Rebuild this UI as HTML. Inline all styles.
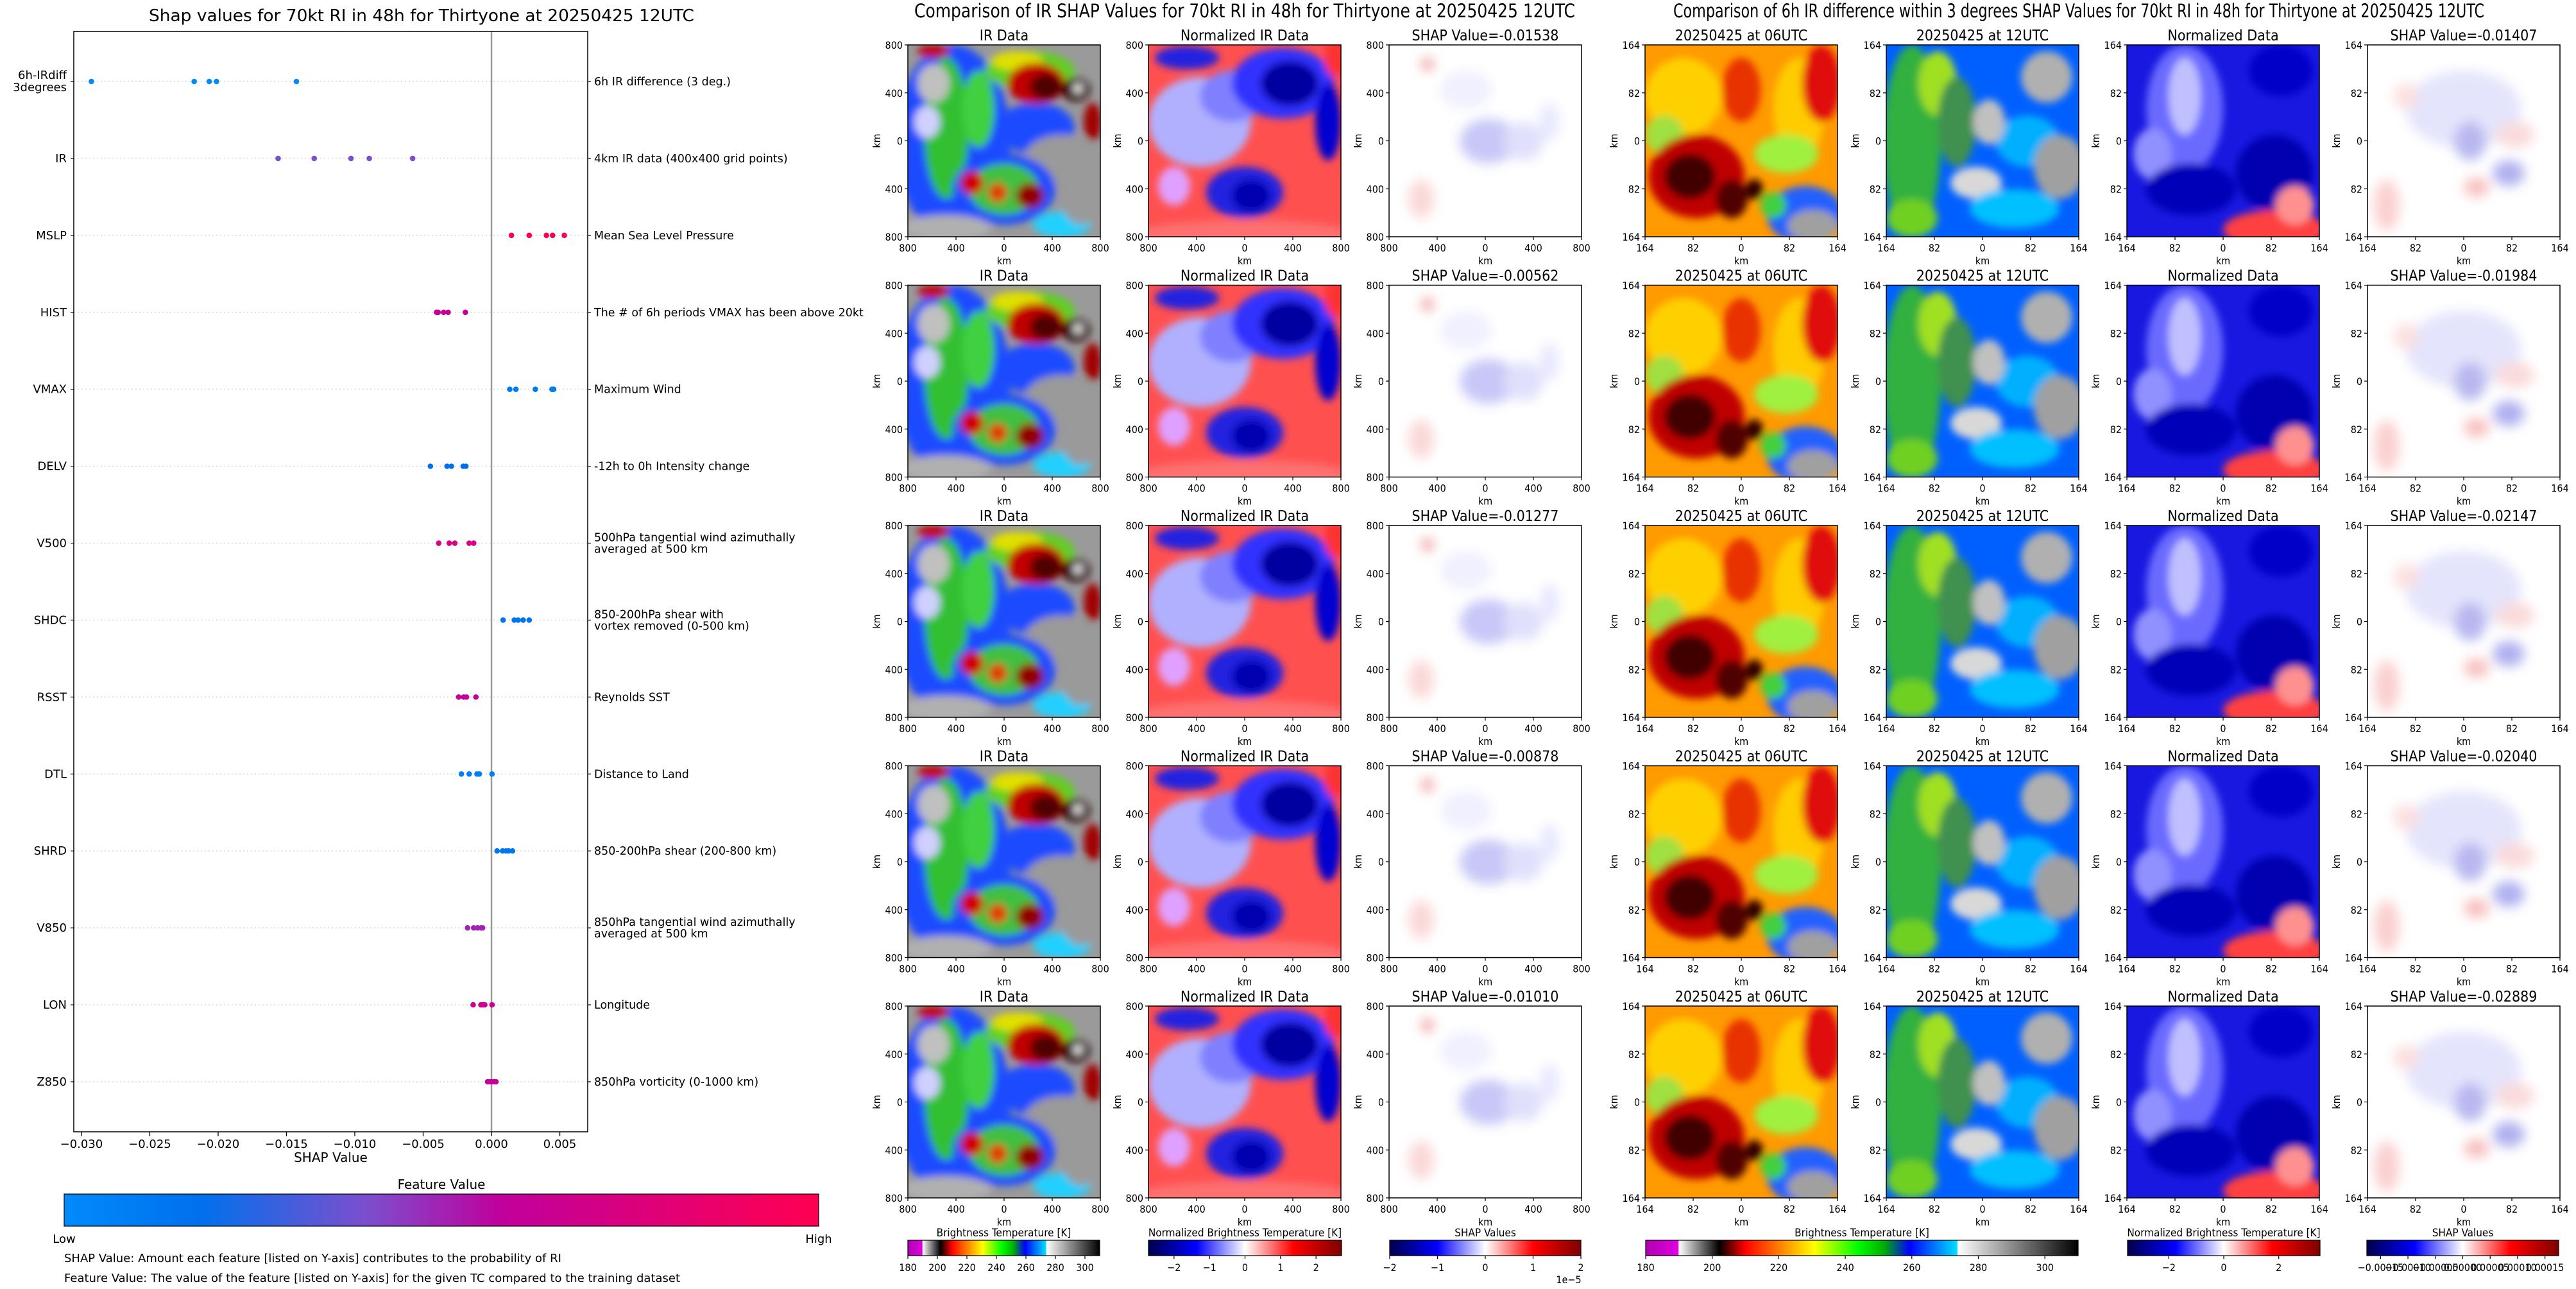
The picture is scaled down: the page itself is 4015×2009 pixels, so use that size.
<!DOCTYPE html>
<html><head><meta charset="utf-8"><style>
html,body{margin:0;padding:0;background:#fff;}
svg{display:block;}
.t{font-family:"DejaVu Sans","Liberation Sans",sans-serif;fill:#000;}
.c{font-family:"DejaVu Sans Condensed","Liberation Sans Narrow","Liberation Sans",sans-serif;fill:#000;}
</style></head><body>
<svg id="root" xmlns="http://www.w3.org/2000/svg" width="4015" height="2009" viewBox="0 0 4015 2009">
<defs>
<filter id="b6" x="-20%" y="-20%" width="140%" height="140%"><feGaussianBlur stdDeviation="6"/></filter>
<filter id="b9" x="-20%" y="-20%" width="140%" height="140%"><feGaussianBlur stdDeviation="9"/></filter>
<clipPath id="pc"><rect x="0" y="0" width="300" height="299"/></clipPath>
<linearGradient id="shapcm" x1="0" x2="1" y1="0" y2="0">
<stop offset="0" stop-color="#008bfb"/><stop offset="0.18" stop-color="#0070ec"/><stop offset="0.4" stop-color="#7b4fce"/><stop offset="0.58" stop-color="#c0009c"/><stop offset="1" stop-color="#ff0051"/></linearGradient>
<linearGradient id="ircm" x1="0" x2="1" y1="0" y2="0">
<stop offset="0" stop-color="#b000b0"/><stop offset="0.075" stop-color="#e000e0"/><stop offset="0.077" stop-color="#ffffff"/><stop offset="0.12" stop-color="#888"/><stop offset="0.17" stop-color="#000"/><stop offset="0.2" stop-color="#800000"/><stop offset="0.23" stop-color="#ff0000"/><stop offset="0.31" stop-color="#ff8000"/><stop offset="0.39" stop-color="#ffff00"/><stop offset="0.49" stop-color="#00ff00"/><stop offset="0.55" stop-color="#00b000"/><stop offset="0.61" stop-color="#0000ff"/><stop offset="0.72" stop-color="#00e0ff"/><stop offset="0.722" stop-color="#ffffff"/><stop offset="0.85" stop-color="#888"/><stop offset="1" stop-color="#000"/></linearGradient>
<linearGradient id="seis" x1="0" x2="1" y1="0" y2="0">
<stop offset="0" stop-color="#00004c"/><stop offset="0.25" stop-color="#0000ff"/><stop offset="0.5" stop-color="#ffffff"/><stop offset="0.75" stop-color="#ff0000"/><stop offset="1" stop-color="#800000"/></linearGradient>

<g id="p-ir" clip-path="url(#pc)"><rect width="300" height="300" fill="#9a9a9a"/><g filter="url(#b6)">
<ellipse cx="70" cy="150" rx="90" ry="150" fill="#1a4cff"/><ellipse cx="200" cy="130" rx="60" ry="40" fill="#1a4cff"/>
<ellipse cx="60" cy="130" rx="35" ry="110" fill="#30c030"/><ellipse cx="110" cy="100" rx="25" ry="60" fill="#40d040"/>
<ellipse cx="40" cy="60" rx="25" ry="30" fill="#c0c0c0"/><ellipse cx="30" cy="120" rx="20" ry="25" fill="#d0d0ff"/>
<ellipse cx="190" cy="40" rx="70" ry="30" fill="#60d020"/><ellipse cx="170" cy="25" rx="40" ry="15" fill="#e0e000"/>
<ellipse cx="200" cy="60" rx="45" ry="32" fill="#c00000"/><ellipse cx="215" cy="65" rx="25" ry="20" fill="#500000"/>
<ellipse cx="262" cy="70" rx="22" ry="18" fill="#300000"/><ellipse cx="265" cy="68" rx="8" ry="8" fill="#e0e0e0"/>
<ellipse cx="288" cy="120" rx="14" ry="30" fill="#a00000"/><ellipse cx="40" cy="10" rx="25" ry="10" fill="#c00000"/>
<ellipse cx="240" cy="180" rx="60" ry="40" fill="#9a9a9a"/><ellipse cx="150" cy="225" rx="80" ry="55" fill="#1a4cff"/>
<ellipse cx="150" cy="225" rx="55" ry="40" fill="#40c040"/><ellipse cx="100" cy="215" rx="18" ry="18" fill="#d00000"/>
<ellipse cx="190" cy="235" rx="22" ry="20" fill="#900000"/><ellipse cx="140" cy="230" rx="15" ry="15" fill="#e04000"/>
<ellipse cx="240" cy="280" rx="45" ry="20" fill="#20d0ff"/><ellipse cx="60" cy="285" rx="70" ry="20" fill="#b0b0b0"/>
<ellipse cx="270" cy="240" rx="30" ry="40" fill="#9a9a9a"/></g></g>

<g id="p-nir" clip-path="url(#pc)"><rect width="300" height="300" fill="#ff5050"/><g filter="url(#b6)">
<ellipse cx="80" cy="120" rx="80" ry="70" fill="#b0b0ff"/><ellipse cx="130" cy="80" rx="50" ry="40" fill="#8080ff"/>
<ellipse cx="60" cy="20" rx="50" ry="18" fill="#2020e0"/><ellipse cx="210" cy="60" rx="80" ry="55" fill="#3030ff"/>
<ellipse cx="220" cy="60" rx="45" ry="35" fill="#0000a0"/><ellipse cx="280" cy="120" rx="20" ry="60" fill="#0000d0"/>
<ellipse cx="150" cy="230" rx="60" ry="40" fill="#2020e0"/><ellipse cx="160" cy="235" rx="30" ry="25" fill="#0000b0"/>
<ellipse cx="40" cy="220" rx="25" ry="30" fill="#e0a0ff"/><ellipse cx="150" cy="295" rx="170" ry="22" fill="#ff7070"/>
<ellipse cx="292" cy="20" rx="18" ry="30" fill="#ff3030"/></g></g>

<g id="p-shap" clip-path="url(#pc)"><rect width="300" height="300" fill="#fff"/><g filter="url(#b9)">
<ellipse cx="155" cy="150" rx="45" ry="35" fill="#c8c8f8"/><ellipse cx="210" cy="150" rx="30" ry="30" fill="#e0e0fc"/>
<ellipse cx="50" cy="240" rx="20" ry="30" fill="#fbd8d8"/><ellipse cx="60" cy="30" rx="10" ry="10" fill="#f0a0a0"/>
<ellipse cx="250" cy="120" rx="15" ry="30" fill="#e8e8ff"/><ellipse cx="120" cy="70" rx="40" ry="30" fill="#f0f0ff"/></g></g>

<g id="p-06" clip-path="url(#pc)"><rect width="300" height="300" fill="#ff9a00"/><g filter="url(#b6)">
<ellipse cx="60" cy="80" rx="60" ry="60" fill="#ffd000"/><ellipse cx="240" cy="100" rx="40" ry="80" fill="#ffcc00"/>
<ellipse cx="275" cy="60" rx="30" ry="60" fill="#e01010"/><ellipse cx="150" cy="70" rx="30" ry="50" fill="#e83000"/>
<ellipse cx="30" cy="140" rx="30" ry="30" fill="#a0e040"/><ellipse cx="220" cy="170" rx="50" ry="30" fill="#a0f040"/>
<ellipse cx="80" cy="205" rx="75" ry="65" fill="#c00000"/><ellipse cx="70" cy="205" rx="40" ry="35" fill="#400000"/>
<ellipse cx="135" cy="240" rx="25" ry="30" fill="#500000"/><ellipse cx="170" cy="225" rx="14" ry="16" fill="#300000"/>
<ellipse cx="250" cy="265" rx="60" ry="45" fill="#2060ff"/><ellipse cx="262" cy="282" rx="40" ry="25" fill="#a0a0a0"/>
<ellipse cx="200" cy="250" rx="20" ry="20" fill="#40d040"/></g></g>

<g id="p-12" clip-path="url(#pc)"><rect width="300" height="300" fill="#0060ff"/><g filter="url(#b6)">
<ellipse cx="40" cy="150" rx="45" ry="150" fill="#30b040"/><ellipse cx="80" cy="60" rx="30" ry="50" fill="#a0e020"/>
<ellipse cx="110" cy="120" rx="30" ry="70" fill="#409050"/><ellipse cx="250" cy="50" rx="40" ry="40" fill="#b0b0b0"/>
<ellipse cx="220" cy="150" rx="50" ry="40" fill="#00b0ff"/><ellipse cx="270" cy="190" rx="40" ry="50" fill="#a0a0a0"/>
<ellipse cx="160" cy="120" rx="25" ry="35" fill="#c0c0c0"/><ellipse cx="140" cy="215" rx="40" ry="25" fill="#d8d8d8"/>
<ellipse cx="200" cy="255" rx="70" ry="30" fill="#00c0ff"/><ellipse cx="40" cy="270" rx="40" ry="30" fill="#70d020"/></g></g>

<g id="p-nd" clip-path="url(#pc)"><rect width="300" height="300" fill="#1818e0"/><g filter="url(#b6)">
<ellipse cx="90" cy="100" rx="60" ry="100" fill="#6a6aff"/><ellipse cx="90" cy="80" rx="25" ry="60" fill="#c0c0ff"/>
<ellipse cx="40" cy="170" rx="30" ry="40" fill="#9090ff"/><ellipse cx="100" cy="225" rx="70" ry="40" fill="#0000b8"/>
<ellipse cx="230" cy="200" rx="60" ry="60" fill="#0000b0"/><ellipse cx="240" cy="40" rx="50" ry="40" fill="#0000c8"/>
<ellipse cx="230" cy="288" rx="80" ry="30" fill="#ff4040"/><ellipse cx="262" cy="250" rx="30" ry="30" fill="#ff9090"/></g></g>

<g id="p-shap2" clip-path="url(#pc)"><rect width="300" height="300" fill="#fff"/><g filter="url(#b9)">
<ellipse cx="150" cy="100" rx="90" ry="60" fill="#e4e4fc"/><ellipse cx="160" cy="150" rx="25" ry="30" fill="#b8b8f0"/>
<ellipse cx="220" cy="200" rx="25" ry="20" fill="#b0b0f0"/><ellipse cx="30" cy="250" rx="20" ry="40" fill="#fbd0d0"/>
<ellipse cx="170" cy="222" rx="20" ry="15" fill="#f8c0c0"/><ellipse cx="230" cy="140" rx="30" ry="20" fill="#fadada"/>
<ellipse cx="60" cy="80" rx="20" ry="20" fill="#fce0e0"/></g></g>
</defs>
<g id="left"></g>
<g id="right"></g>
</svg>
<script>
// ---------- left chart data ----------
const features = ["6h-IRdiff|3degrees","IR","MSLP","HIST","VMAX","DELV","V500","SHDC","RSST","DTL","SHRD","V850","LON","Z850"];
const descriptions = ["6h IR difference (3 deg.)","4km IR data (400x400 grid points)","Mean Sea Level Pressure","The # of 6h periods VMAX has been above 20kt","Maximum Wind","-12h to 0h Intensity change","500hPa tangential wind azimuthally|averaged at 500 km","850-200hPa shear with|vortex removed (0-500 km)","Reynolds SST","Distance to Land","850-200hPa shear (200-800 km)","850hPa tangential wind azimuthally|averaged at 500 km","Longitude","850hPa vorticity (0-1000 km)"];
const shapIRdiff = [-0.02927,-0.02175,-0.02065,-0.02012,-0.01427];
const shapIR = [-0.01561,-0.01297,-0.01028,-0.00894,-0.00577];
const shapMSLP = [0.00146,0.00276,0.00402,0.00447,0.00533];
const shapHIST = [-0.00402,-0.0039,-0.0035,-0.00317,-0.00191];
const shapVMAX = [0.00134,0.00179,0.00321,0.00443,0.00455];
const shapDELV = [-0.00447,-0.00325,-0.00293,-0.00207,-0.00187];
const shapV500 = [-0.00386,-0.00309,-0.00268,-0.00163,-0.0013];
const shapSHDC = [0.00085,0.00167,0.00195,0.00232,0.00276];
const shapRSST = [-0.0024,-0.00203,-0.00183,-0.00114];
const shapDTL = [-0.0022,-0.00163,-0.00106,-0.00089,0.00004];
const shapSHRD = [0.00041,0.00081,0.00106,0.00126,0.00154];
const shapV850 = [-0.00175,-0.0013,-0.00102,-0.00077,-0.00065];
const shapLON = [-0.00134,-0.00077,-0.00061,-0.00049,0.00004];
const shapZ850 = [-0.00028,-0.00012,0.00004,0.0002,0.00033];
const featureValues = [0.0,0.4,1.0,0.62,0.1,0.18,0.75,0.15,0.6,0.08,0.15,0.5,0.65,0.6];
const xTicks = [-0.030,-0.025,-0.020,-0.015,-0.010,-0.005,0.000,0.005];
const xTickLabels = ["\u22120.030","\u22120.025","\u22120.020","\u22120.015","\u22120.010","\u22120.005","0.000","0.005"];
const allShap = [shapIRdiff,shapIR,shapMSLP,shapHIST,shapVMAX,shapDELV,shapV500,shapSHDC,shapRSST,shapDTL,shapSHRD,shapV850,shapLON,shapZ850];

// ---------- right panel data ----------
const irShapTitles = ["-0.01538","-0.00562","-0.01277","-0.00878","-0.01010"];
const diffShapTitles = ["-0.01407","-0.01984","-0.02147","-0.02040","-0.02889"];
const irTickLabels = ["800","400","0","400","800"];
const diffTickLabels = ["164","82","0","82","164"];
const cbIRTicks = [180,200,220,240,260,280,300];
const cbNormTicks = [-2,-1,0,1,2];
const cbShapTicks = [-2,-1,0,1,2];
const cbNorm2Ticks = [-2,0,2];
const cbShap2Ticks = [-0.00015,-0.0001,-0.00005,0,0.00005,0.0001,0.00015];
const cbShap2Labels = ["\u22120.00015","\u22120.00010","\u22120.00005","0.00000","0.00005","0.00010","0.00015"];

const NS="http://www.w3.org/2000/svg";
function mk(tag, attrs, parent, text){const e=document.createElementNS(NS,tag);for(const k in attrs)e.setAttribute(k,attrs[k]);if(text!==undefined)e.textContent=text;parent.appendChild(e);return e;}

const cmStops=[[0,[0,139,251]],[0.18,[0,112,236]],[0.4,[123,79,206]],[0.58,[192,0,156]],[1,[255,0,81]]];
function cm(f){for(let i=1;i<cmStops.length;i++){if(f<=cmStops[i][0]){const a=cmStops[i-1],b=cmStops[i];const t=(f-a[0])/(b[0]-a[0]);return "rgb("+a[1].map((v,j)=>Math.round(v+(b[1][j]-v)*t)).join(",")+")";}}return "rgb(255,0,81)";}

// ---------- left chart ----------
const L=document.getElementById('left');
const PL=115,PR=916,PT=49,PB=1764,XMIN=-0.03056,XMAX=0.00704;
const ROW0=127,ROWSTEP=(1686-127)/13;
function xs(v){return PL+(v-XMIN)/(XMAX-XMIN)*(PR-PL);}
function ys(i){return ROW0+i*ROWSTEP;}
let t=mk('text',{x:657,y:33,'text-anchor':'middle','font-size':'26',class:'t',textLength:850,lengthAdjust:'spacingAndGlyphs'},L,"Shap values for 70kt RI in 48h for Thirtyone at 20250425 12UTC");

features.forEach((f,i)=>{
  const y=ys(i);
  const g=mk('line',{x1:PL,x2:PR,y1:y,y2:y,stroke:'#ccc','stroke-width':1.2,'stroke-dasharray':'2,4'},L);
  
  const parts=f.split('|');
  const lab=mk('text',{x:104,y:parts.length>1?y-4:y+6,'text-anchor':'end','font-size':'18',class:'t'},L);
  
  parts.forEach((p,k)=>mk('tspan',{x:104,dy:k?19:0},lab,p));
  const dp=descriptions[i].split('|');
  const d=mk('text',{x:926,y:dp.length>1?y-3:y+6,'font-size':'17.5',class:'t'},L);
  
  dp.forEach((p,k)=>mk('tspan',{x:926,dy:k?18:0},d,p));
  mk('line',{x1:PL-5,x2:PL,y1:y,y2:y,stroke:'#000','stroke-width':1.2},L);
  mk('line',{x1:PR,x2:PR+5,y1:y,y2:y,stroke:'#000','stroke-width':1.2},L);
});
let zl=mk('line',{x1:xs(0),x2:xs(0),y1:PT,y2:PB,stroke:'#999','stroke-width':2.5},L);

allShap.forEach((arr,i)=>{arr.forEach(v=>{
  const c=mk('circle',{cx:xs(v),cy:ys(i),r:4.3,fill:cm(featureValues[i])},L);
  
});});
let fr=mk('rect',{x:PL,y:PT,width:PR-PL,height:PB-PT,fill:'none',stroke:'#000','stroke-width':1.5},L);

xTicks.forEach((v,i)=>{
  mk('line',{x1:xs(v),x2:xs(v),y1:PB,y2:PB+7,stroke:'#000','stroke-width':1.3},L);
  const tl=mk('text',{x:xs(v),y:1789,'text-anchor':'middle','font-size':'18',class:'t'},L,xTickLabels[i]);
  
});
t=mk('text',{x:(PL+PR)/2,y:1811,'text-anchor':'middle','font-size':'20',class:'t'},L,"SHAP Value");

t=mk('text',{x:688,y:1853,'text-anchor':'middle','font-size':'20',class:'t'},L,"Feature Value");

t=mk('rect',{x:100,y:1861,width:1176,height:50,fill:'url(#shapcm)',stroke:'#000','stroke-width':1.2},L);

t=mk('text',{x:100,y:1937,'text-anchor':'middle','font-size':'18',class:'t'},L,"Low");

t=mk('text',{x:1276,y:1937,'text-anchor':'middle','font-size':'18',class:'t'},L,"High");

t=mk('text',{x:100,y:1967,'font-size':'18',class:'t'},L,"SHAP Value: Amount each feature [listed on Y-axis] contributes to the probability of RI");

t=mk('text',{x:100,y:1998,'font-size':'18',class:'t'},L,"Feature Value: The value of the feature [listed on Y-axis] for the given TC compared to the training dataset");


// ---------- right panels ----------
const R=document.getElementById('right');
const colX=[1415,1790,2165,2564,2940,3315,3690];
const rowY=[70,444.5,819,1193.5,1568];
const PW=300,PH=299;
const panelDefs=['#p-ir','#p-nir','#p-shap','#p-06','#p-12','#p-nd','#p-shap2'];
const panelNames=['ir-data-panel','normalized-ir-panel','ir-shap-panel','ir-06utc-panel','ir-12utc-panel','normalized-data-panel','diff-shap-panel'];
t=mk('text',{x:1940,y:27,'text-anchor':'middle','font-size':'29',class:'c',textLength:1030,lengthAdjust:'spacingAndGlyphs'},R,"Comparison of IR SHAP Values for 70kt RI in 48h for Thirtyone at 20250425 12UTC");

t=mk('text',{x:3240,y:27,'text-anchor':'middle','font-size':'29',class:'c',textLength:1264,lengthAdjust:'spacingAndGlyphs'},R,"Comparison of 6h IR difference within 3 degrees SHAP Values for 70kt RI in 48h for Thirtyone at 20250425 12UTC");

rowY.forEach((y,r)=>{
  colX.forEach((x,c)=>{
    const u=mk('use',{href:panelDefs[c],x:x,y:y},R);
    
    const b=mk('rect',{x:x,y:y,width:PW,height:PH,fill:'none',stroke:'#000','stroke-width':1.5},R);
    
    let title;
    if(c===0)title="IR Data";else if(c===1)title="Normalized IR Data";else if(c===2)title="SHAP Value="+irShapTitles[r];
    else if(c===3)title="20250425 at 06UTC";else if(c===4)title="20250425 at 12UTC";else if(c===5)title="Normalized Data";else title="SHAP Value="+diffShapTitles[r];
    const tt=mk('text',{x:x+PW/2,y:y-7,'text-anchor':'middle','font-size':'23',class:'c'},R,title);
    
    const labs=c<3?irTickLabels:diffTickLabels;
    labs.forEach((lb,k)=>{
      const ty=y+k*PH/4, tx=x+k*PW/4;
      mk('line',{x1:x-5,x2:x,y1:ty,y2:ty,stroke:'#000','stroke-width':1.2},R);
      const yl=mk('text',{x:x-8,y:ty+6,'text-anchor':'end','font-size':'16',class:'c'},R,lb);
      
      mk('line',{x1:tx,x2:tx,y1:y+PH,y2:y+PH+5,stroke:'#000','stroke-width':1.2},R);
      const xl=mk('text',{x:tx,y:y+PH+23,'text-anchor':'middle','font-size':'16',class:'c'},R,lb);
      
    });
    const kx=mk('text',{x:x+PW/2,y:y+PH+43,'text-anchor':'middle','font-size':'16',class:'c'},R,"km");
    
    const ky=mk('text',{x:0,y:0,'text-anchor':'middle','font-size':'16',class:'c',transform:`translate(${x-43},${y+PH/2}) rotate(-90)`},R,"km");
    
  });
});
function colorbar(x0,x1,grad,vmin,vmax,ticks,labels,title,name){
  const bt=1933,bb=1957;
  const tt=mk('text',{x:(x0+x1)/2,y:1927,'text-anchor':'middle','font-size':'17',class:'c'},R,title);
  
  const rr=mk('rect',{x:x0,y:bt,width:x1-x0,height:bb-bt,fill:'url(#'+grad+')',stroke:'#000','stroke-width':1.2},R);
  
  ticks.forEach((v,i)=>{
    const tx=x0+(v-vmin)/(vmax-vmin)*(x1-x0);
    mk('line',{x1:tx,x2:tx,y1:bb,y2:bb+5,stroke:'#000','stroke-width':1.2},R);
    const tl=mk('text',{x:tx,y:1981,'text-anchor':'middle','font-size':'16',class:'c'},R,labels?labels[i]:String(v).replace('-','\u2212'));
    
  });
}
colorbar(1415,1714,'ircm',180,310,cbIRTicks,null,"Brightness Temperature [K]",'ir-colorbar');
colorbar(1790,2091,'seis',-2.72,2.72,cbNormTicks,null,"Normalized Brightness Temperature [K]",'normalized-ir-colorbar');
colorbar(2166,2464,'seis',-2,2,cbShapTicks,null,"SHAP Values",'ir-shap-colorbar');
colorbar(2565,3239,'ircm',180,310,cbIRTicks,null,"Brightness Temperature [K]",'diff-ir-colorbar');
colorbar(3316,3616,'seis',-3.5,3.5,cbNorm2Ticks,null,"Normalized Brightness Temperature [K]",'normalized-data-colorbar');
colorbar(3689,3988,'seis',-0.000175,0.000175,cbShap2Ticks,cbShap2Labels,"SHAP Values",'diff-shap-colorbar');
t=mk('text',{x:2445,y:2000,'text-anchor':'middle','font-size':'16',class:'c'},R,"1e\u22125");

</script>
</body></html>
